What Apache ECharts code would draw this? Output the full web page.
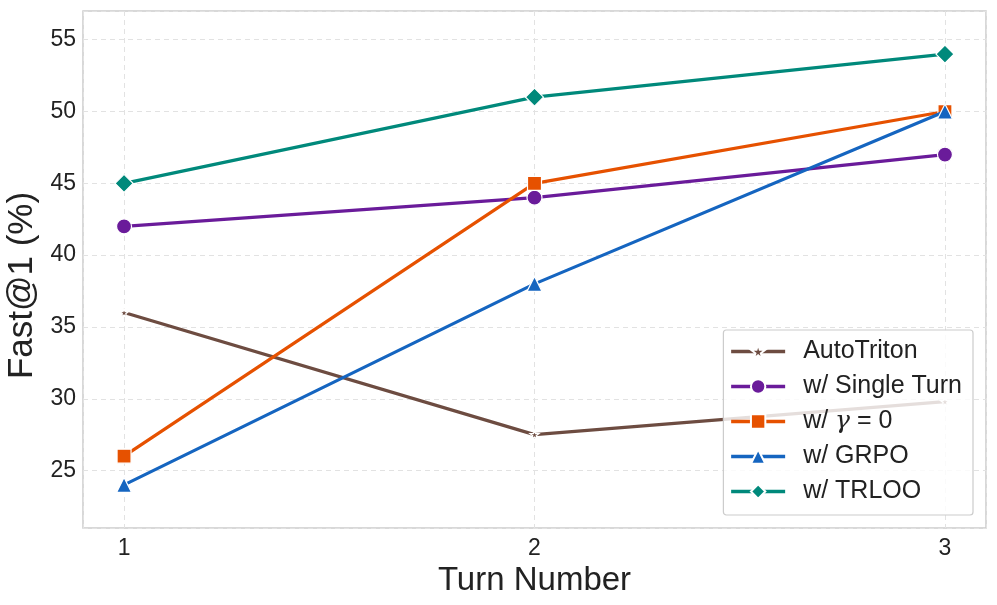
<!DOCTYPE html>
<html><head><meta charset="utf-8">
<script src="https://cdn.jsdelivr.net/npm/echarts@6/dist/echarts.min.js"></script>
<style>html,body{margin:0;padding:0;background:#fff}#c{width:997px;height:605px}</style>
</head><body><div id="c"></div>
<script>
const turns = [1, 2, 3];
const autoTriton = [36, 27.5, 29.8];
const singleTurn = [42, 44, 47];
const gammaZero = [26, 45, 50];
const grpo = [24, 38, 50];
const trloo = [45, 51, 54];
const seriesNames = ['AutoTriton', 'w/ Single Turn', 'w/ \u03b3 = 0', 'w/ GRPO', 'w/ TRLOO'];
const yTicks = [25, 30, 35, 40, 45, 50, 55];

const colors = ['#6D4C41', '#6A1B9A', '#E65100', '#1565C0', '#00897B'];
const symbols = [
  'path://M50,0 L61,35 L98,35 L68,57 L79,91 L50,70 L21,91 L32,57 L2,35 L39,35 Z',
  'circle', 'rect', 'triangle', 'diamond'];
const sizes = [9, 15, 14, 15, 18];
const allData = [autoTriton, singleTurn, gammaZero, grpo, trloo];
const font = 'Liberation Sans, Arial, Helvetica, sans-serif';

const chart = echarts.init(document.getElementById('c'), null, {renderer: 'canvas'});
chart.setOption({
  animation: false,
  backgroundColor: '#fff',
  grid: {left: 83, right: 11, top: 11, bottom: 77, outerBoundsMode: 'none', containLabel: false,
    show: true, borderColor: '#cccccc', borderWidth: 1.5, backgroundColor: 'transparent'},
  xAxis: {
    type: 'value', min: 0.9, max: 3.1, minInterval: 1, maxInterval: 1,
    name: 'Turn Number', nameLocation: 'middle', nameGap: 34,
    nameTextStyle: {fontSize: 33, color: '#222', fontFamily: font},
    axisLine: {show: false}, axisTick: {show: false},
    axisLabel: {fontSize: 23, color: '#222', fontFamily: font, margin: 9, showMinLabel: false, showMaxLabel: false,
      formatter: v => (turns.indexOf(Math.round(v)) >= 0 && Math.abs(v - Math.round(v)) < 1e-6) ? String(Math.round(v)) : ''},
    splitLine: {show: true, lineStyle: {color: '#e2e2e2', type: [5, 4], width: 1}}
  },
  yAxis: {
    type: 'value', min: 21, max: 57, minInterval: 5, maxInterval: 5,
    name: 'Fast@1 (%)', nameLocation: 'middle', nameGap: 32,
    nameTextStyle: {fontSize: 35, color: '#222', fontFamily: font, padding: [0, 32, 0, 0]},
    axisLine: {show: false}, axisTick: {show: false},
    axisLabel: {fontSize: 23, color: '#222', fontFamily: font, margin: 7, showMinLabel: false, showMaxLabel: false,
      formatter: v => yTicks.indexOf(v) >= 0 ? String(v) : ''},
    splitLine: {show: true, lineStyle: {color: '#e2e2e2', type: [5, 4], width: 1}}
  },
  legend: {
    right: 24, bottom: 90, orient: 'vertical',
    itemWidth: 54, itemHeight: 18, itemGap: 10,
    padding: [9, 11, 11, 6],
    lineStyle: {width: 3.5},
    backgroundColor: 'rgba(255,255,255,0.82)', borderColor: '#cccccc', borderWidth: 1.2, borderRadius: 3,
    textStyle: {fontSize: 25, color: '#222', fontFamily: font, padding: [0, 0, 0, 13],
      rich: {
        t: {fontSize: 25, color: '#222', fontFamily: font},
        i: {fontSize: 25, color: '#222', fontFamily: 'DejaVu Serif, serif', fontStyle: 'italic'}
      }},
    formatter: name => name.indexOf('\u03b3') >= 0 ? '{t|w/ }{i|\u03b3}{t| = 0}' : name,
    data: seriesNames
  },
  series: seriesNames.map((n, i) => ({
    name: n, type: 'line', z: 2 + i,
    data: turns.map((t, k) => [t, allData[i][k]]),
    symbol: symbols[i], symbolSize: sizes[i],
    lineStyle: {color: colors[i], width: 3.2},
    itemStyle: {color: colors[i], borderColor: '#fff', borderWidth: 1.2},
    emphasis: {disabled: true}
  }))
});
</script></body></html>
